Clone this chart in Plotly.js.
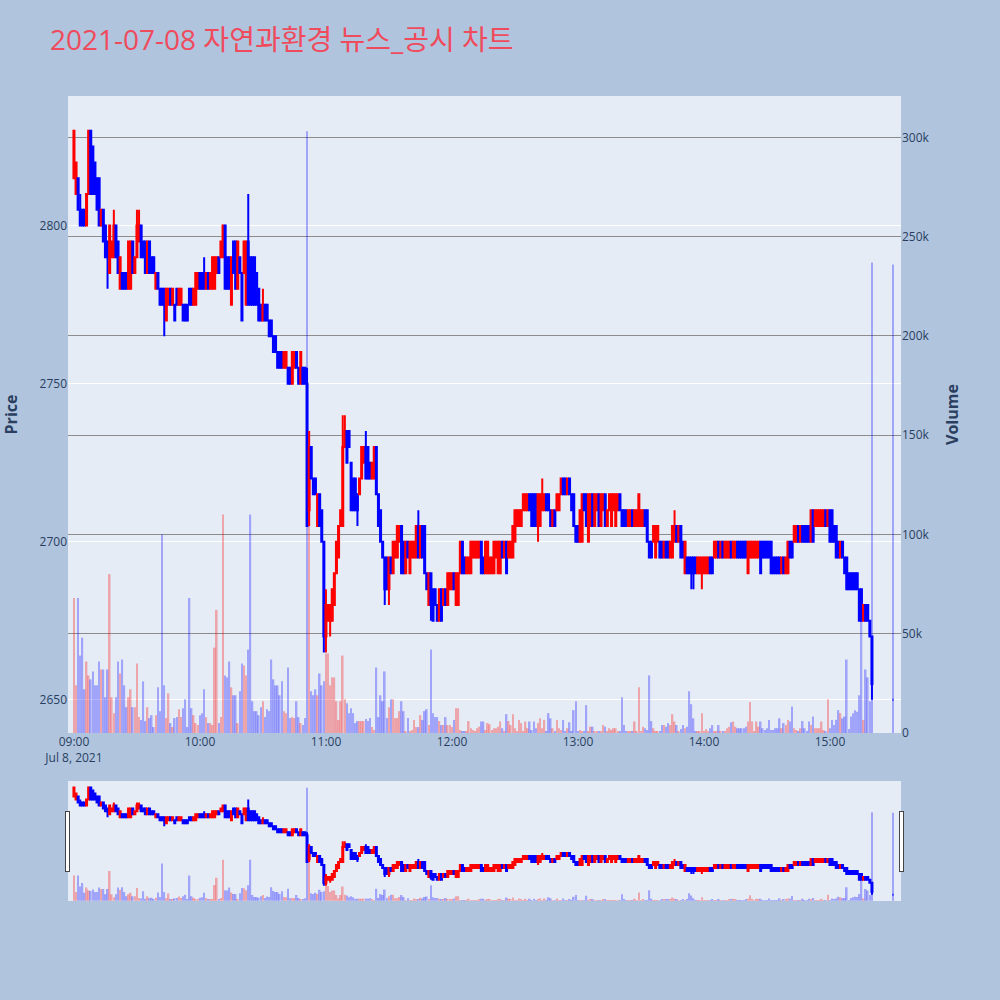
<!DOCTYPE html>
<html>
<head>
<meta charset="utf-8">
<script src="https://cdn.plot.ly/plotly-3.0.1.min.js"></script>
<style>html,body{margin:0;padding:0;background:#B0C4DE;}#chart{width:1000px;height:1000px;}</style>
</head>
<body>
<div id="chart"></div>
<script>
const chartTitle = "2021-07-08 자연과환경 뉴스_공시 차트";
const tradeDate = "2021-07-08";
const sessionStart = "09:00";       // first one-minute candle
const sessionMinutes = 381;         // 09:00 .. 15:20 continuous session
const closingAuction = "15:30";     // closing single-price auction

const openP = [
2815,2810,2815,2805,2805,2805,2800,2810,2830,2825,
2820,2815,2815,2800,2805,2800,2795,2785,2790,2790,
2800,2795,2780,2785,2785,2785,2780,2780,2795,2785,
2790,2795,2800,2795,2795,2785,2795,2790,2790,2780,
2785,2780,2780,2780,2770,2775,2780,2775,2775,2780,
2775,2775,2775,2775,2775,2780,2780,2775,2775,2780,
2785,2785,2785,2780,2785,2780,2780,2780,2785,2790,
2790,2790,2800,2790,2790,2775,2795,2795,2780,2790,
2785,2785,2775,2795,2790,2790,2790,2785,2780,2775,
2770,2775,2775,2770,2770,2765,2765,2760,2760,2760,
2755,2755,2755,2755,2750,2755,2760,2755,2750,2755,
2755,2750,2710,2730,2720,2720,2705,2715,2710,2700,
2670,2675,2675,2675,2680,2690,2695,2705,2705,2730,
2735,2735,2725,2720,2720,2715,2715,2720,2725,2730,
2730,2725,2720,2720,2730,2715,2710,2700,2695,2695,
2685,2695,2690,2695,2695,2700,2705,2700,2690,2700,
2690,2695,2695,2695,2705,2695,2705,2705,2690,2680,
2690,2685,2685,2680,2675,2685,2680,2685,2680,2685,
2685,2690,2680,2680,2690,2700,2695,2690,2690,2690,
2695,2695,2695,2695,2700,2695,2690,2690,2690,2690,
2690,2695,2690,2690,2700,2695,2700,2695,2695,2695,
2700,2705,2705,2705,2710,2710,2710,2715,2715,2715,
2715,2705,2705,2710,2710,2715,2715,2710,2705,2710,
2710,2710,2715,2720,2720,2715,2720,2715,2715,2705,
2705,2700,2700,2715,2715,2700,2705,2715,2705,2710,
2715,2705,2710,2715,2705,2710,2705,2710,2705,2710,
2715,2710,2710,2710,2705,2705,2710,2705,2705,2705,
2705,2705,2710,2710,2700,2700,2700,2695,2700,2700,
2700,2695,2700,2700,2695,2695,2700,2705,2700,2705,
2700,2690,2695,2695,2695,2695,2695,2690,2690,2690,
2690,2690,2690,2695,2695,2695,2695,2700,2695,2700,
2695,2695,2695,2700,2695,2695,2700,2700,2700,2700,
2700,2690,2695,2695,2695,2695,2695,2700,2700,2700,
2700,2700,2700,2695,2695,2695,2695,2690,2695,2690,
2690,2700,2700,2700,2700,2705,2700,2705,2705,2705,
2705,2700,2710,2705,2705,2705,2705,2705,2710,2705,
2710,2710,2705,2705,2700,2695,2700,2695,2695,2690,
2690,2690,2690,2690,2685,2685,2675,2680,2680,2675,
2670,
2650];
const highP = [
2830,2820,2815,2810,2805,2805,2810,2830,2830,2825,
2820,2815,2815,2805,2805,2800,2795,2800,2795,2805,
2800,2795,2790,2785,2785,2785,2795,2795,2795,2790,
2805,2805,2800,2795,2795,2795,2795,2790,2790,2785,
2785,2780,2780,2780,2780,2780,2780,2780,2775,2780,
2780,2780,2775,2775,2775,2780,2780,2780,2785,2785,
2785,2785,2790,2785,2785,2785,2790,2790,2790,2790,
2795,2800,2800,2790,2790,2790,2795,2795,2795,2790,
2785,2795,2795,2810,2790,2790,2790,2785,2780,2775,
2780,2775,2775,2770,2770,2765,2765,2760,2760,2760,
2760,2760,2755,2755,2760,2760,2760,2755,2760,2755,
2755,2755,2735,2730,2720,2720,2715,2715,2710,2700,
2685,2680,2680,2685,2690,2700,2705,2710,2740,2740,
2735,2735,2725,2720,2720,2715,2720,2730,2730,2735,
2730,2725,2725,2730,2730,2715,2710,2700,2695,2695,
2695,2695,2700,2700,2705,2705,2705,2700,2700,2700,
2700,2700,2700,2705,2710,2705,2705,2705,2690,2690,
2690,2685,2685,2680,2685,2685,2685,2685,2690,2690,
2690,2690,2690,2690,2700,2700,2695,2695,2695,2700,
2700,2700,2700,2700,2700,2695,2700,2700,2695,2695,
2700,2700,2700,2700,2700,2700,2700,2700,2700,2705,
2710,2710,2710,2710,2715,2715,2715,2715,2715,2715,
2715,2715,2715,2720,2715,2715,2715,2710,2710,2710,
2715,2715,2720,2720,2720,2720,2720,2715,2715,2705,
2705,2710,2715,2715,2715,2715,2715,2715,2715,2715,
2715,2715,2715,2715,2710,2715,2715,2715,2715,2715,
2715,2710,2710,2710,2710,2710,2710,2710,2710,2715,
2710,2710,2710,2710,2700,2700,2705,2705,2705,2700,
2700,2700,2700,2700,2700,2705,2710,2705,2705,2705,
2700,2700,2695,2695,2695,2695,2695,2695,2695,2695,
2695,2695,2695,2695,2695,2700,2700,2700,2700,2700,
2700,2700,2700,2700,2700,2700,2700,2700,2700,2700,
2700,2700,2700,2700,2700,2700,2700,2700,2700,2700,
2700,2700,2700,2695,2695,2695,2695,2695,2695,2695,
2700,2700,2700,2705,2705,2705,2705,2705,2705,2705,
2705,2710,2710,2710,2710,2710,2710,2710,2710,2710,
2710,2710,2705,2705,2700,2700,2700,2695,2695,2690,
2690,2690,2690,2690,2685,2685,2680,2680,2680,2675,
2670,
2650];
const lowP = [
2815,2810,2805,2800,2800,2800,2800,2810,2810,2810,
2810,2805,2800,2800,2795,2790,2780,2785,2790,2790,
2790,2785,2780,2780,2780,2780,2780,2780,2785,2785,
2790,2795,2790,2790,2785,2785,2785,2785,2785,2780,
2780,2775,2775,2765,2770,2775,2775,2775,2770,2775,
2775,2775,2770,2770,2770,2775,2775,2775,2775,2780,
2780,2780,2780,2780,2780,2780,2780,2780,2785,2785,
2790,2790,2780,2780,2780,2775,2785,2780,2780,2785,
2770,2785,2775,2775,2775,2775,2775,2775,2770,2770,
2770,2770,2770,2765,2765,2760,2760,2755,2755,2755,
2755,2755,2750,2750,2750,2755,2755,2750,2750,2750,
2750,2705,2705,2720,2715,2715,2705,2705,2700,2665,
2665,2675,2670,2675,2680,2690,2695,2705,2705,2730,
2725,2730,2710,2710,2710,2705,2715,2720,2725,2720,
2720,2720,2720,2720,2715,2705,2700,2695,2680,2685,
2680,2690,2690,2695,2695,2700,2690,2690,2690,2695,
2690,2695,2695,2695,2695,2695,2695,2690,2685,2680,
2675,2675,2680,2675,2675,2675,2680,2680,2680,2685,
2685,2685,2680,2680,2690,2690,2690,2690,2690,2690,
2695,2695,2695,2695,2690,2690,2690,2690,2690,2690,
2690,2695,2690,2690,2695,2695,2690,2695,2695,2695,
2700,2705,2705,2705,2710,2710,2710,2710,2705,2705,
2705,2700,2705,2710,2710,2710,2710,2705,2705,2705,
2710,2710,2715,2715,2715,2715,2715,2710,2705,2700,
2700,2700,2700,2710,2705,2700,2705,2705,2705,2710,
2705,2705,2710,2705,2705,2710,2705,2710,2705,2710,
2710,2705,2705,2705,2705,2705,2705,2705,2705,2705,
2705,2705,2705,2700,2695,2695,2700,2695,2700,2695,
2695,2695,2695,2695,2695,2695,2700,2700,2700,2695,
2695,2690,2690,2690,2685,2685,2690,2690,2690,2685,
2690,2690,2690,2690,2690,2695,2695,2695,2695,2695,
2695,2695,2695,2695,2695,2695,2695,2695,2695,2695,
2695,2690,2695,2695,2695,2695,2695,2690,2695,2695,
2695,2695,2690,2690,2690,2690,2690,2690,2690,2690,
2690,2695,2695,2700,2700,2700,2700,2700,2700,2700,
2700,2700,2700,2705,2705,2705,2705,2705,2705,2705,
2700,2700,2700,2695,2695,2695,2695,2690,2685,2685,
2685,2685,2685,2685,2675,2675,2675,2675,2675,2670,
2650,
2650];
const closeP = [
2830,2820,2805,2800,2800,2800,2810,2830,2810,2810,
2810,2805,2800,2805,2795,2790,2790,2800,2795,2800,
2790,2785,2790,2780,2780,2780,2795,2795,2785,2790,
2800,2800,2790,2790,2785,2795,2785,2785,2785,2785,
2780,2775,2775,2775,2780,2780,2775,2780,2770,2775,
2780,2780,2770,2770,2770,2775,2775,2780,2785,2785,
2780,2780,2780,2785,2780,2785,2790,2790,2790,2785,
2795,2800,2780,2780,2780,2790,2785,2780,2795,2785,
2770,2795,2795,2775,2775,2775,2775,2775,2770,2770,
2775,2770,2770,2765,2765,2760,2760,2755,2755,2755,
2760,2760,2750,2750,2760,2760,2755,2750,2760,2750,
2750,2705,2730,2720,2715,2715,2715,2705,2700,2670,
2680,2680,2680,2685,2690,2700,2705,2710,2730,2735,
2725,2730,2710,2710,2710,2710,2720,2730,2730,2720,
2720,2720,2725,2730,2715,2705,2700,2695,2685,2685,
2695,2690,2700,2700,2705,2705,2690,2690,2700,2695,
2700,2700,2700,2705,2695,2705,2695,2690,2685,2690,
2680,2675,2680,2675,2685,2675,2685,2680,2690,2690,
2690,2685,2690,2690,2700,2690,2690,2695,2695,2700,
2700,2700,2700,2700,2690,2690,2700,2700,2695,2695,
2700,2700,2700,2700,2695,2700,2690,2700,2700,2705,
2710,2710,2710,2710,2715,2715,2715,2710,2705,2705,
2705,2715,2715,2715,2715,2710,2710,2705,2710,2705,
2715,2715,2720,2715,2715,2720,2715,2710,2705,2700,
2700,2710,2715,2710,2705,2715,2715,2705,2715,2715,
2705,2715,2715,2705,2710,2715,2715,2715,2715,2715,
2710,2705,2705,2705,2710,2710,2705,2710,2710,2715,
2710,2710,2705,2700,2695,2695,2705,2705,2705,2695,
2695,2700,2695,2695,2700,2705,2705,2700,2705,2695,
2695,2700,2690,2690,2690,2690,2690,2695,2695,2695,
2695,2695,2695,2690,2690,2700,2700,2695,2700,2695,
2700,2700,2700,2695,2700,2700,2695,2695,2695,2695,
2695,2700,2700,2700,2700,2700,2700,2690,2695,2695,
2695,2695,2690,2690,2690,2690,2690,2695,2690,2695,
2700,2695,2695,2705,2705,2700,2705,2700,2700,2700,
2700,2710,2700,2710,2710,2710,2710,2710,2705,2710,
2700,2700,2700,2695,2695,2700,2695,2690,2685,2685,
2685,2685,2685,2685,2675,2675,2680,2675,2675,2670,
2655,
2650];
// volume in thousands of shares
const volumeK = [
68,24,68,39,48,22,36,29,27,31,
24,24,36,32,32,18,32,80,18,10,
18,36,30,37,24,13,18,22,13,13,
35,8,6.5,26,6,13,7.5,9,3,9,
23,11,100,24,7.5,20,5,3,7.5,8,
12,8,12.5,17,3,68,12.5,9,5,4,
9,10,22,8,5,5,4,43,62,5,
8,110,29,28,36,23,19,19,5,21,
35,34,29,42,110,16,11,11,9,13,
16,8,12,11,37,27,24,24,19,26,
11,10,33,7.5,8,7.5,16,8,5,4,
7.5,303,120,21,19,22,19,30,24,26,
40,40,24,28,28,16,6.5,16,39,17,
15,10,12.5,10,5,6,6,6,6,7,
6,7.5,3,1.5,33,8,19,16,31,7.5,
13,17,17,7.5,7.5,11,16,11,1,7.5,
1,1.5,6.5,3,3,9,6.5,11,12,4,
42,10,8,8,6,4,4,8,4,4,
3,6.5,12.5,12.5,1.5,1,1,1,6,2.4,
1.5,1,2.4,3.2,5.8,5.8,1.5,5,4.4,1.5,
2.4,2.4,3.2,5.8,2.4,0.7,9.5,6,4,9.5,
2.4,0.7,6.6,5,0.7,5.8,2.4,5.8,1.5,5.8,
2.4,5,7.4,2.4,6.6,0.7,10,7.4,2.4,0.7,
6.6,2.4,1.5,6.6,0.7,2.4,5.4,0.7,11.5,16,
0.7,1.5,0.7,0.7,14,0.7,3.2,3.2,0.7,0.7,
0.7,0.7,4,3.2,0.7,2.4,1.5,2.4,2.4,0.7,
0.7,18,4,0.7,0.7,0.7,0.7,5.8,0.7,23,
0.7,3.2,2.4,1.5,29,6,2.4,0.7,0.7,0.7,
4,4,3.2,5,4,9.5,5.8,4,0.7,2,
4,2.4,3.2,21,14.5,7.4,0.7,0.7,0.7,10,
0.7,2,0.7,2.4,4,0.7,0.7,4,0.7,0.7,
0.7,2.4,3.2,5.4,5.8,3.2,2.4,2.4,2.4,2.4,
3.2,5.8,15.6,5.8,0.7,5.8,3.2,5.8,2.4,1.5,
2.4,6.6,1.5,1.5,2.4,2.4,7.4,2.4,5,4,
6.6,5.8,13.3,2.4,1.5,0.7,2.4,6,2.4,0.7,
5.8,4,8.3,2.4,2.4,2.4,5.8,1.5,0.7,17,
2.4,6.6,4,6.6,11.5,10,7.4,8.3,37,2,
8.3,10,11.5,10.7,19,60,6.6,32,28,16,
237,
236];

// ---- time axis: one label per traded minute, plus closing auction ----
const times = [];
{
  const [h0, m0] = sessionStart.split(":").map(Number);
  for (let i = 0; i < sessionMinutes; i++) {
    const t = h0 * 60 + m0 + i;
    const hh = String(Math.floor(t / 60)).padStart(2, "0");
    const mm = String(t % 60).padStart(2, "0");
    times.push(tradeDate + " " + hh + ":" + mm);
  }
  times.push(tradeDate + " " + closingAuction);
}
const n = times.length;
[openP, highP, lowP, closeP, volumeK].forEach((a, k) => {
  if (a.length !== n) throw new Error("array " + k + " length " + a.length + " != " + n);
});

const volColors = closeP.map((c, i) => {
  const prev = i > 0 ? closeP[i - 1] : openP[i];
  const up = c > openP[i] || (c === openP[i] && c > prev);
  return up ? "red" : "blue";
});

const candle = {
  type: "candlestick",
  x: times, open: openP, high: highP, low: lowP, close: closeP,
  increasing: {line: {color: "red", width: 2}, fillcolor: "red"},
  decreasing: {line: {color: "blue", width: 2}, fillcolor: "blue"},
  name: "Price", yaxis: "y", hoverinfo: "x+y"
};
const volume = {
  type: "bar",
  x: times, y: volumeK.map(v => v * 1000),
  marker: {color: volColors, opacity: 0.3, line: {width: 0}},
  name: "Volume", yaxis: "y2"
};

const layout = {
  width: 1000, height: 1000,
  paper_bgcolor: "#B0C4DE",
  plot_bgcolor: "#E5ECF6",
  showlegend: false,
  font: {family: "Open Sans, Noto Sans CJK KR, sans-serif", color: "#2a3f5f", size: 12},
  title: {text: chartTitle, x: 0.05, xanchor: "left", y: 0.96, yanchor: "middle",
          font: {size: 28, color: "#EF4B5C", family: "Open Sans, Noto Sans CJK KR, sans-serif"}},
  margin: {l: 68, r: 99, t: 96, b: 100, pad: 0},
  xaxis: {
    type: "date",
    range: ["2021-07-08 08:57:10", "2021-07-08 15:33:50"],
    showgrid: false, zeroline: false,
    rangeslider: {visible: true, thickness: 0.149, bgcolor: "#E5ECF6"},
    ticks: ""
  },
  yaxis: {
    title: {text: "<b>Price</b>", font: {size: 16}, standoff: 22},
    range: [2639.5, 2841],
    gridcolor: "white", zeroline: false,
    tickvals: [2650, 2700, 2750, 2800]
  },
  yaxis2: {
    title: {text: "<b>Volume</b>", font: {size: 16}, standoff: 18},
    overlaying: "y", side: "right",
    range: [0, 320800],
    gridcolor: "#8c8c8c", gridwidth: 1, zeroline: false,
    tickvals: [0, 50000, 100000, 150000, 200000, 250000, 300000],
    ticktext: ["0", "50k", "100k", "150k", "200k", "250k", "300k"]
  }
};

Plotly.newPlot("chart", [volume, candle], layout, {displayModeBar: false, responsive: false});
</script>
</body>
</html>
